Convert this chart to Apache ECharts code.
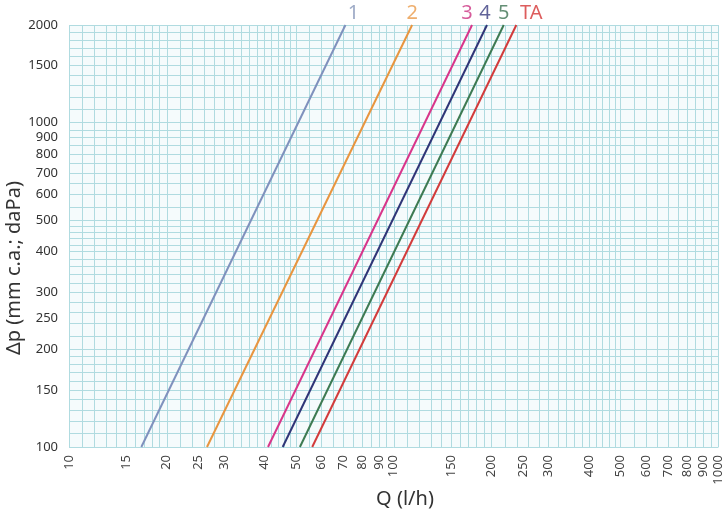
<!DOCTYPE html>
<html>
<head>
<meta charset="utf-8">
<script src="https://cdn.jsdelivr.net/npm/echarts@6/dist/echarts.min.js"></script>
<style>
html,body{margin:0;padding:0;background:#fff;}
#chart{width:725px;height:514px;}
</style>
</head>
<body>
<div id="chart"></div>
<script>
// ---- data ----
const curveNames = ['1', '2', '3', '4', '5', 'TA'];
const dpRange = [100, 2000];                       // Δp at the two ends of each line
const qAtDpMin = [16.7, 26.6, 41.0, 45.5, 51.4, 56.1];     // Q (l/h) at Δp = 100
const qAtDpMax = [71.0, 113.9, 174.2, 193.7, 218.1, 238.5]; // Q (l/h) at Δp = 2000
const xTickLabels = [10, 15, 20, 25, 30, 40, 50, 60, 70, 80, 90, 100, 150, 200, 250, 300, 400, 500, 600, 700, 800, 900, 1000];
const yTickLabels = [100, 150, 200, 250, 300, 400, 500, 600, 700, 800, 900, 1000, 1500, 2000];
const xGridSteps = [[10, 20, 1], [20, 50, 2], [50, 100, 5], [100, 200, 10], [200, 500, 20], [500, 1000, 50]];
const yGridSteps = [[100, 200, 10], [200, 500, 20], [500, 1000, 50], [1000, 2000, 100]];

// ---- styles ----
const curveColors = ['#7f91bd', '#e8953f', '#d8358a', '#2f3577', '#3d7a52', '#d23b3b'];
const labelColors = ['#8595b8', '#ea9a48', '#cc3382', '#3a3c80', '#3d7352', '#d43535'];
const labelOffsets = [[8, 0], [0, 0], [-5, 0], [-2, 0], [0, 0], [15, 0]];
const gridColor = '#b0dbe0';
const fontFam = '"Noto Sans", "DejaVu Sans", sans-serif';

function gridValues(steps) {
  const out = [];
  steps.forEach(function (s) {
    for (let v = s[0]; v < s[1]; v += s[2]) out.push(v);
  });
  out.push(steps[steps.length - 1][1]);
  return out;
}

const chart = echarts.init(document.getElementById('chart'), null, {renderer: 'canvas'});

const series = curveNames.map(function (name, i) {
  return {
    name: name,
    type: 'line',
    symbol: 'none',
    animation: false,
    lineStyle: {color: curveColors[i], width: 2},
    itemStyle: {color: curveColors[i]},
    data: [[qAtDpMin[i], dpRange[0]], [qAtDpMax[i], dpRange[1]]]
  };
});

// label anchors at the upper end of every line
series.push({
  name: 'labels',
  type: 'scatter',
  animation: false,
  silent: true,
  clip: false,
  symbolSize: 1,
  itemStyle: {color: 'rgba(0,0,0,0)'},
  data: curveNames.map(function (name, i) {
    return {
      value: [qAtDpMax[i], dpRange[1]],
      label: {
        show: true,
        position: 'top',
        distance: 1,
        offset: labelOffsets[i],
        formatter: name,
        color: labelColors[i],
        fontSize: 20,
        fontFamily: fontFam
      }
    };
  })
});

chart.setOption({
  animation: false,
  backgroundColor: '#ffffff',
  grid: {
    left: 69, right: 6, top: 25, bottom: 67,
    show: true, backgroundColor: '#f5fbfc', borderWidth: 0
  },
  xAxis: {
    type: 'log', logBase: 10, min: 10, max: 1000,
    axisLine: {show: false},
    axisTick: {show: false, customValues: gridValues(xGridSteps)},
    splitLine: {show: true, lineStyle: {color: gridColor, width: 1}},
    axisLabel: {
      customValues: xTickLabels,
      formatter: function (v) { return String(v); },
      rotate: 90, margin: 8,
      color: '#444', fontSize: 13, fontFamily: fontFam
    }
  },
  yAxis: {
    type: 'log', logBase: 10, min: 100, max: 2000,
    axisLine: {show: false},
    axisTick: {show: false, customValues: gridValues(yGridSteps)},
    splitLine: {show: true, lineStyle: {color: gridColor, width: 1}},
    axisLabel: {
      customValues: yTickLabels,
      formatter: function (v) { return String(v); },
      margin: 11,
      color: '#333', fontSize: 13, fontFamily: fontFam
    }
  },
  graphic: [
    {
      type: 'text', x: 14, y: 268, rotation: Math.PI / 2,
      style: {text: 'Δp (mm c.a.; daPa)', fill: '#333', fontSize: 20, fontFamily: fontFam, align: 'center', verticalAlign: 'middle'}
    },
    {
      type: 'text', x: 405, y: 499,
      style: {text: 'Q (l/h)', fill: '#333', fontSize: 20, fontFamily: fontFam, align: 'center', verticalAlign: 'middle'}
    }
  ],
  series: series
});
</script>
</body>
</html>
